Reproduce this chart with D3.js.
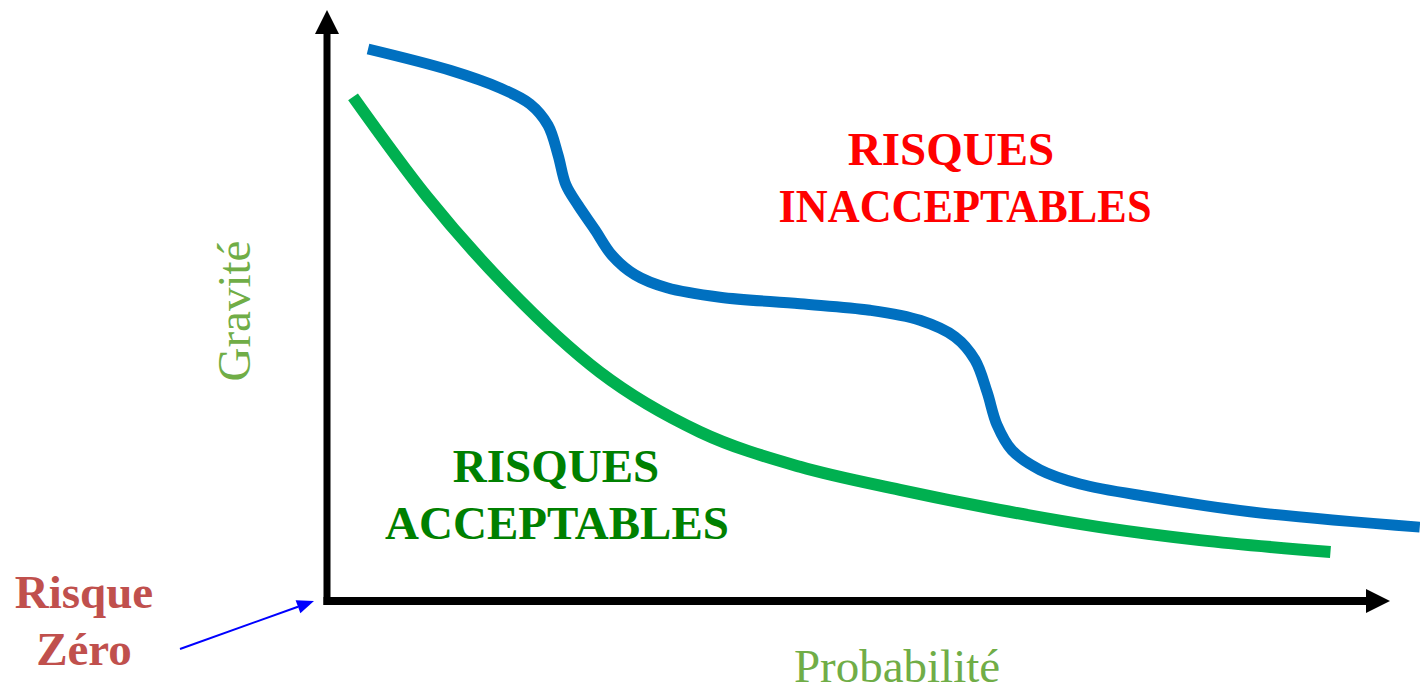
<!DOCTYPE html>
<html><head><meta charset="utf-8">
<script src="https://cdn.jsdelivr.net/npm/d3@7"></script>
<style>html,body{margin:0;padding:0;background:#fff;overflow:hidden}</style>
</head><body><svg id="c" width="1420" height="695"></svg>
<script>
// Curve data (abstract units: x = probabilité, y = gravité, 0..100)
const blueX = [3.86,11.57,16.27,19.10,20.79,21.73,22.48,23.61,25.21,26.81,28.97,31.98,36.97,44.5,51.08,55.79,59.08,60.96,62.09,63.03,64.44,67.07,70.84,77.42,86.83,102.8];
const blueY = [93.4,89.8,86.8,84.1,80.5,75.5,70.4,67.0,62.8,58.5,55.2,53.0,51.4,50.3,49.2,47.5,44.7,40.8,35.4,29.8,25.5,22.2,19.8,17.6,15.1,12.5];
const greenX = [2.45,9.41,16.93,25.68,35.09,44.5,53.9,63.3,72.7,82.1,94.4];
const greenY = [85.3,68.4,53.1,38.7,28.6,22.7,18.8,15.4,12.5,10.3,8.3];
const xLabel = "Probabilité";
const yLabel = "Gravité";
const zoneHigh = ["RISQUES","INACCEPTABLES"];
const zoneLow = ["RISQUES","ACCEPTABLES"];
const zeroLabel = ["Risque","Zéro"];

const svg = d3.select("#c");
const x = d3.scaleLinear().domain([0,100]).range([327,1390]);
const y = d3.scaleLinear().domain([0,100]).range([601,10]);
const serif = "'Liberation Serif','Times New Roman',serif";

// axes
const ax = svg.append("g");
ax.append("line").attr("x1",x(0)).attr("x2",x(0)).attr("y1",y(0)+4).attr("y2",y(100)+22)
  .attr("stroke","#000").attr("stroke-width",7);
ax.append("path").attr("d",`M${x(0)},${y(100)} L${x(0)-12},${y(100)+24} L${x(0)+12},${y(100)+24} Z`).attr("fill","#000");
ax.append("line").attr("x1",x(0)-3.5).attr("x2",x(100)-22).attr("y1",y(0)).attr("y2",y(0))
  .attr("stroke","#000").attr("stroke-width",8);
ax.append("path").attr("d",`M${x(100)},${y(0)} L${x(100)-24},${y(0)-12} L${x(100)-24},${y(0)+12} Z`).attr("fill","#000");

// curves
const greenLine = d3.line().x(d=>x(d[0])).y(d=>y(d[1])).curve(d3.curveMonotoneX);
const blueLine = d3.line().x(d=>x(d[0])).y(d=>y(d[1])).curve(d3.curveCatmullRom.alpha(0.5));
svg.append("path").datum(greenX.map((v,i)=>[v,greenY[i]])).attr("d",greenLine)
  .attr("fill","none").attr("stroke","#00B050").attr("stroke-width",12);
svg.append("path").datum(blueX.map((v,i)=>[v,blueY[i]])).attr("d",blueLine)
  .attr("fill","none").attr("stroke","#0070C0").attr("stroke-width",11);

// texts
function label(t, cx, yy, fill, size, weight, len){
  const el = svg.append("text").attr("x",cx).attr("y",yy).attr("text-anchor","middle")
    .attr("font-family",serif).attr("font-weight",weight).attr("font-size",size).attr("fill",fill).text(t);
  if(len) el.attr("textLength",len).attr("lengthAdjust","spacingAndGlyphs");
}
label(zoneHigh[0], 951, 165, "#FF0000", 47, "bold");
label(zoneHigh[1], 965, 222, "#FF0000", 47, "bold", 373);
label(zoneLow[0], 556, 482, "#008000", 47, "bold");
label(zoneLow[1], 557, 539, "#008000", 47, "bold");
label(zeroLabel[0], 84, 608, "#C0504D", 47, "bold");
label(zeroLabel[1], 84, 665, "#C0504D", 47, "bold");

svg.append("text").attr("x",897).attr("y",682).attr("text-anchor","middle")
  .attr("font-family",serif).attr("font-size",47).attr("fill","#70AD47").text(xLabel);
svg.append("text").attr("transform","translate(250,311) rotate(-90)").attr("text-anchor","middle")
  .attr("font-family",serif).attr("font-size",47).attr("fill","#70AD47").text(yLabel);

// pointer arrow to origin
const p0=[180,649], p1=[314,601];
const ang=Math.atan2(p1[1]-p0[1],p1[0]-p0[0]);
const L=17, W=7;
const bx=p1[0]-L*Math.cos(ang), by=p1[1]-L*Math.sin(ang);
svg.append("line").attr("x1",p0[0]).attr("y1",p0[1]).attr("x2",bx).attr("y2",by)
  .attr("stroke","#0000FF").attr("stroke-width",2);
svg.append("path").attr("d",`M${p1[0]},${p1[1]} L${bx-W*Math.sin(ang)},${by+W*Math.cos(ang)} L${bx+W*Math.sin(ang)},${by-W*Math.cos(ang)} Z`)
  .attr("fill","#0000FF");
</script></body></html>
